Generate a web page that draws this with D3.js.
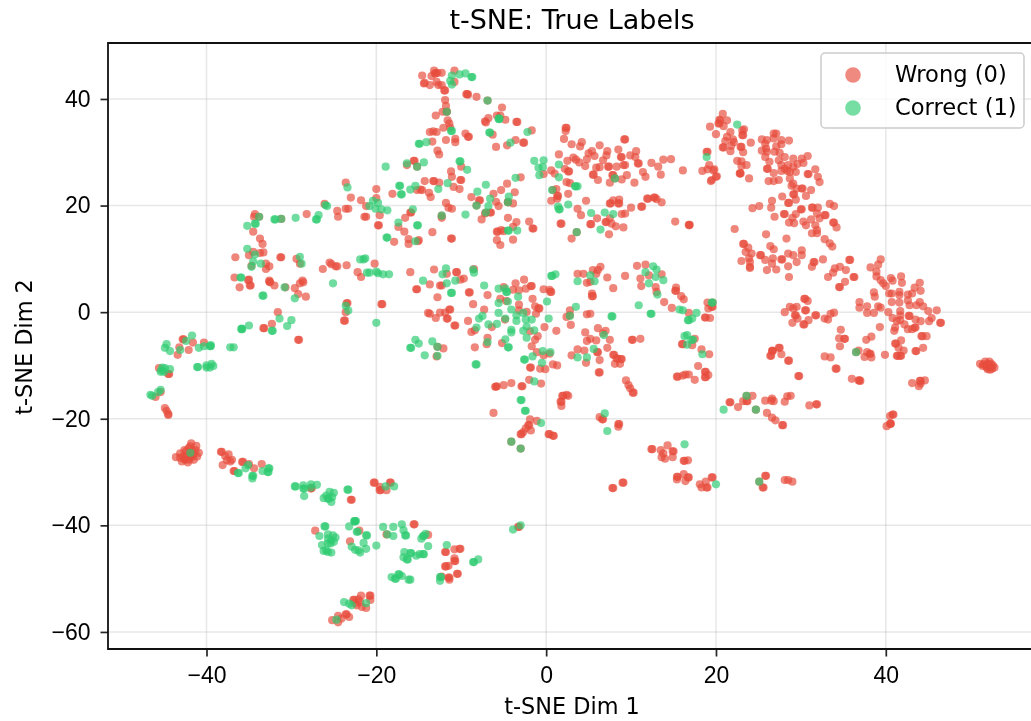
<!DOCTYPE html>
<html>
<head>
<meta charset="utf-8">
<script src="https://cdn.jsdelivr.net/npm/d3@7"></script>
<style>
  html, body { margin: 0; padding: 0; background: #fff; }
  svg { display: block; font-family: "DejaVu Sans", sans-serif; filter: blur(0.3px); }
  .tick text { font-size: 23px; fill: #000; }
  .tick line { stroke: #262626; stroke-width: 1.7; }
  .domain { display: none; }
</style>
</head>
<body>
<svg id="chart" width="1031" height="721"></svg>
<script>
const xTicks = [-40, -20, 0, 20, 40];
const yTicks = [-60, -40, -20, 0, 20, 40];
const legendLabels = ["Wrong (0)", "Correct (1)"];

// t-SNE units
const wrongPoints = [
  [-23.6,24.3],[-23,21.5],[-21.8,21],[-20,23.1],[-20,21.4],[-18.1,22.2],[-26.1,20.3],[-24.6,19],[-23.6,19.4],[-23.3,19.4],
  [-24.5,17.9],[-21.2,19.9],[-19.6,18.2],[-21.4,17.9],[-21.2,17.9],[-19.8,16.3],[-19.7,16.3],[-28.2,18.4],[-34.3,18.4],[-34.4,17.9],
  [-33.8,17.9],[-31.2,17.5],[-34.5,15.1],[-33.7,13.8],[-33.4,12.8],[-34.5,11.3],[-35,10.7],[-33.3,11.2],[-33.7,11.1],[-36.6,10.3],
  [-31.3,10.3],[-31.2,10.3],[-29.4,10],[-29,9.1],[-34.7,8.7],[-33,9.1],[-32.6,8.6],[-33,8.1],[-36.7,6.5],[-35,6.1],
  [-26.3,8.1],[-25.5,9.3],[-25.3,9],[-24.8,8.6],[-24.6,8.6],[-23.5,8.8],[-20.2,9.1],[-22.2,7.5],[-21.8,6.6],[-16,7.5],
  [-32.6,5.9],[-28.7,5.9],[-17.9,13.2],[-17.4,16],[-16.7,15.1],[-16.6,17.7],[-16,18.7],[-15.9,18.7],[-16.2,13.7],[-16.2,12.8],
  [-15.1,13.3],[-15.6,28.4],[-15.5,28.4],[-16.4,27.6],[-15.2,22.9],[-15.2,27.3],
  [-36.1,4.65],[-35.1,6],[-34.9,5],[-34.8,5],[-32.6,5.7],[-32.5,5.6],[-32,5],[-30.7,4.65],[-29.6,4.5],[-29,5.4],
  [-28.6,5.6],[-29.2,3.4],[-28.3,2.9],[-15.3,4.3],[-15.2,4.3],[-23.5,1.65],[-23.4,1.7],[-19.4,1.5],[-19.3,1.5],[-23.6,0],
  [-23.8,-1.6],[-23.7,-1.6],[-31.6,0],[-32.3,-2.2],[-33.3,-3],[-33.2,-3],[-29.2,-5.2],[-29.1,-5.2],[-42.8,-5.1],[-42.7,-5.1],
  [-41.6,-5.7],[-43.2,-6.6],[-42.1,-7.1],[-43.4,-8],[-40.3,-5.7],[-45.6,-10.5],[-44.5,-11.6],[-44.4,-11.6],[-46,-15.9],[-45.4,-15],
  [-44.9,-18],[-44.7,-18.5],[-44.5,-19.1],[-44.5,-19.3],
  [-41.8,-24.6],[-41.2,-25.1],[-42.6,-25.9],[-43.1,-26.5],[-43.6,-27.2],[-42.9,-28],[-42.2,-28.2],[-41.5,-27.7],[-41.1,-27.1],[-40.9,-26.4],
  [-41.3,-25.9],[-42.1,-25.5],[-42.3,-26.8],[-42.7,-27.1],[-43.1,-27.3],[-41.7,-27.1],[-42,-27.7],[-42.5,-27.7],[-41.5,-26.6],[-41.9,-26.4],
  [-41.9,-25.2],[-42.4,-26.1],[-41.7,-26],[-42,-27.2],[-42.6,-27.6],
  [-38.3,-26.2],[-38.2,-26.2],[-37.8,-27],[-37.4,-26.7],[-38.1,-28.7],[-37,-27.7],[-37.2,-28],[-37.6,-27.8],[-35.8,-28.1],[-35.7,-28.1],
  [-35,-28.5],[-36.8,-29.8],[-36.7,-29.8],[-34.4,-29.3],[-33.5,-28.5],[-20.3,-32],[-20.2,-32],[-18.4,-32],[-18.3,-32],[-19.6,-33.4],
  [-19.5,-33.4],[-18.8,-33.4],[-19.6,-32.8],[-23,-35.2],[-22.9,-35.2],[-27.6,-33],[-27.7,-33.1],
  [-27.2,-41],[-22,-41],[-23.1,-43],[-15.6,-39.8],[-15.5,-39.8],[-18.8,-41.7],[-13.9,-41.8],[-11.9,-45],[-11.8,-45],[-10.8,-44.5],
  [-10.2,-44.4],[-10.1,-44.4],[-10.8,-46.2],[-10.8,-46.7],[-10.7,-46.7],[-11.9,-47.7],[-11.8,-47.7],[-11.5,-47.6],[-10.5,-49.1],[-10.4,-49.1],
  [-12.3,-49.6],[-11.5,-49.8],[-11.4,-49.8],[-11.4,-50.2],[-3.3,-40.3],[-3.2,-40.3],[-20.8,-53.2],[-20.7,-53.2],[-21.8,-53.2],[-20.7,-54],
  [-22.7,-54],[-22.6,-54],[-22.1,-53.9],[-21.9,-54.4],[-22.3,-55],[-21.7,-55.3],[-21.2,-55.5],[-22.5,-54.6],[-23.6,-56.7],[-23.5,-56.7],
  [-23.2,-57.2],[-24.5,-57],[-25.2,-57.8],[-24.5,-58.2],[-24.1,-57.5],
  [-14.6,44.4],[-13.2,45.3],[-13.5,44.3],[-12.8,44.9],[-12.3,44.9],[-13.1,44.8],[-13,44.8],[-10.8,45.3],[-14.3,43],[-14.4,42.9],
  [-13.7,42.6],[-12.9,43.2],[-12.7,42.6],[-12.3,42.6],[-12,41.6],[-11.9,41.6],[-10.8,43.2],[-9.4,40.9],[-9.3,40.9],[-9.2,40.8],
  [-8.2,40.4],[-11.9,39.8],[-11.8,38.7],[-11.7,37.6],[-12.2,37.6],[-13,36.9],[-11.6,36],[-11.4,35.4],[-11.3,34.6],[-12.1,34.6],
  [-13.7,33.8],[-13.3,33.9],[-12.9,33.8],[-9.5,33.5],[-9.2,32.9],[-9.1,32.9],[-13.4,32],[-11.8,32.3],[-10.7,32.5],[-10.7,31.9],
  [-12.8,30.3],[-12.6,29.6],[-11.2,26.4],[-11.1,25.4],[-10.1,24.8],[-10,24.8],[-10,27.3],[-14.3,24.6],[-13.3,24.6],[-13.2,24.6],
  [-12.6,24.3],[-10.9,23.5],[-10.2,23.1],[-14.8,23],[-14.6,22.9],[-13.8,22.4],[-13.6,21.6],[-11.8,20.5],[-11.5,19.6],[-11.1,19.4],
  [-12.3,17.7],[-13.4,15],[-11.2,13.8],[-11.1,13.8],[-15,13.5],[-5.2,38.4],[-5.8,36.9],[-5.4,36.9],[-4.8,36.1],[-6.8,36.4],
  [-7.2,35.8],[-7.1,35.6],[-3.5,35.7],[-3.4,35.7],[-1.7,34.1],[-6.3,33.3],[-5.9,31],[-4.6,31.3],[-3.6,32.3],[-2.7,31.8],
  [-2.6,31.8],[-3,25.3],[-4.6,24.1],[-5.3,22.9],[-3.7,22.5],[-6.2,22.2],[-8.8,21.6],[-7.9,21],[-7.8,21],[-5.9,20.7],
  [-5.6,19.9],[-4.5,20.7],[-3.9,20.4],[-6.6,18.7],[-6.5,18.7],[-7.2,18.5],[-7.6,17.4],[-4.5,17.7],[-3.5,16.9],[-3.9,16],
  [-2,17],[-1.6,15.7],[-1.5,15.7],[-5.8,15.1],[-5.7,15.1],[-5.3,15.4],[-5,15.2],[-5.8,13.5],[-5.4,12.6],[-3.9,13.6],
  [-0.3,25.9],[0.6,26.6],[1,26],[0.8,22.9],[1.2,23.1],[1.3,21.8],[1.4,21.8],[1.3,21.3],[0.6,20.9],[2.6,22.2],
  [2.3,34.6],[2.4,34.6],[2.3,34],[2.1,32.5],[3,31.5],[4.2,31.9],[4,31.1],[1.5,29.6],[2.5,28.4],[3.2,29],
  [3.5,28.6],[3.9,28.1],[4.6,27.4],[4.8,28.7],[5,29.8],[5.4,30.2],[5.7,29.3],[6.3,31.3],[7.2,30.2],[7.1,29.4],
  [6.7,28.5],[6.3,27.2],[5.9,27.1],[7.3,27.3],[7.4,27.3],[8.3,27.3],[8.8,29.1],[8.9,29.1],[8.5,30.5],[9.2,32.4],
  [9.3,32.4],[9.1,27.6],[9.3,27.6],[9.9,29.4],[10.6,30.2],[10.5,29.1],[10.8,27.9],[10.9,27.9],[11.4,26.3],[11.7,25.4],
  [12.4,28],[13.2,27.3],[13.8,28.6],[14.7,28.7],[13.5,25.8],[16.1,26.6],[2.6,26.4],[2.7,26.4],[2.2,26.9],[2.4,24.4],
  [2.8,24.2],[5.5,25.8],[5.6,25.8],[6.1,24.8],[7.5,24.3],[7.8,25.7],[7.9,25.7],[8.9,24.9],[9.5,25.7],[10.4,24.3],
  [11.9,21.3],[12,21.3],[12.7,21.5],[12.8,21.5],[13,21.2],[13.6,20.6],[10,19.6],[11.2,19.8],[11.3,19.8],[7.9,21],
  [7.5,20.4],[7.6,20.4],[8.6,21.1],[8.5,20.4],[8.6,20.4],[4.7,20.9],[3.7,19.4],[4.1,18.2],[1.7,16.6],[1.8,16.6],
  [5.2,16.5],[5.3,16.5],[6,17.6],[7,16.9],[7.1,16.9],[7.5,17.6],[7.7,16.6],[8.2,16.1],[8.9,18.4],[9.3,18.5],
  [9.1,15.9],[7.4,14.6],[3,13.8],[15.2,17],[16.8,16.4],[16.9,16.4],[16.85,16.3],[18.9,30.1],[19,30.1],[19.3,34.8],
  [20,33.4],[20.3,35.4],[20.4,35.4],[19.2,27.6],[18.4,26.5],[19,26.8],[19.7,26.6],[19.4,24.6],[20,25.4],[3.6,15],
  [8.1,25.1],[-12.3,18.1],[-8.2,20],[-7.1,18.7],[-4.5,20.6],[-6.9,39.7],[-11.7,37.6],
  [20.8,37.2],[20.5,36],[21.3,36],[20.9,34.9],[20.4,36.1],[21.7,33.8],[21.3,32.9],[21.1,32.1],[22,32.4],[22.1,31.9],
  [23.1,34.1],[23.3,34.3],[23.1,33.2],[23.2,33.2],[24.1,31.8],[20.8,30.9],[20.9,30.9],[21.7,30.2],[21.8,31.2],[22.9,31],
  [23,31],[23.2,30],[22.5,28.4],[23,28.3],[23.6,27.6],[23,27.4],[22.8,26],[22.9,26],[22.85,26.1],[23.9,25.1],
  [19.8,26.8],[20.1,25.5],[19.5,24.8],[25.4,32.4],[26,32.3],[25.8,31.6],[26.8,33.5],[27.1,33.5],[26.8,32.6],[27.7,32.3],
  [28.6,32.2],[27.7,31.5],[27.1,31.1],[25.4,30.3],[25.9,30.7],[26,30.1],[26.9,30.1],[27.5,29.9],[25.8,29.1],[26.3,28.2],
  [26,26.9],[26.1,26.9],[26.8,26.1],[27.4,28.5],[28.1,29.1],[29.1,28.8],[30.1,28.8],[30.8,29.3],[30.3,28],[29.6,27.8],
  [29.1,27.3],[27.7,27.6],[28.1,26.9],[28.5,27.6],[27.7,26.5],[28.7,26.3],[29.4,26.3],[28.4,26.5],[31.7,26.8],[30.8,25.9],
  [30.9,25.9],[32,25.4],[32.2,24.4],[26.2,24.6],[26.8,24.6],[27.4,24.8],[28.7,25.1],[28.9,23.7],[29.5,23.2],[30.1,23.2],
  [30.2,23.2],[29.1,24.1],[31.2,22.9],[29.1,22.1],[29.2,22.1],[29.4,21.1],[27.8,21.7],[30.6,21.8],[26.6,20.9],[26.5,19.6],
  [28.5,20.5],[28.6,20.5],[24.3,19.5],[25.1,19.9],[28,18.4],[28.1,18.4],[26.9,17.9],[30,19.3],[30.1,19.3],[29.4,18.4],
  [29,17.7],[28.6,16.8],[29.2,16.7],[31.3,19.6],[31.4,19.6],[32,19.6],[31.9,18.5],[32.8,18.2],[32.9,18.2],[32.2,17.6],
  [33.4,20.3],[33.9,19.9],[31.2,17.4],[30.3,17],[30.6,16.3],[31.7,16.3],[31.9,15.4],[33.8,16.8],[33.9,16.8],[34.2,15.9],
  [31.3,14.8],[31.9,14.8],[22.2,15.6],[25.9,14.6],[28.3,13.8],[32.8,13.7],[33.4,12.9],[33.7,12.3],[23.2,12.8],[23.3,12.8],
  [23.8,12.1],[23.5,11.3],[24.2,11],[23.9,10.1],[25.2,10.7],[25.3,10.7],[26.4,12.4],[26.8,11.8],[23,9.6],[24,9.4],
  [24,8.3],[28.5,11],[29.1,10.7],[30.1,11.6],[30.1,10.7],[27.7,9.9],[27.8,9.9],[26.7,10.1],[25.8,9.8],[35.7,9.8],
  [35.8,9.8],[32.6,9.9],[31.5,9.4],[31.6,9.4],[31.3,8.5],[34,8.2],[34.6,8.5],[33.8,7.4],[35.3,7.9],[33.2,6.6],
  [36.2,6.6],[36.3,6.6],[39.4,9.9],[39.1,8.9],[38.2,8.4],[38.9,7.6],[24,8.5],[26,7.9],[27.1,8],[28.5,8.6],
  [28.6,6.6],[26.6,9.1],[29.5,9.4],[34.5,4.7],[34.6,4.7],[35.2,5.7],
  [38.9,6.7],[39.4,6],[39.7,5.4],[40,4.9],[40.6,6.4],[40.8,5.9],[41.8,6.7],[41.9,5.5],[44,5.5],[43.4,4.6],
  [44.1,4],[38.6,3.7],[38.7,2.9],[40.4,3.5],[40.7,3.5],[41.6,3.8],[41.6,3.2],[42.6,3.3],[43.1,3.5],[40.7,1.9],
  [41.6,1.8],[42.6,2.2],[42.8,1.3],[44,1.9],[44.4,1.1],[43.6,1.3],[36.9,1.9],[36.9,0.85],[37.8,1.1],[39.1,1.1],
  [39.4,0.85],[37.8,-0.15],[38.6,-0.15],[40.3,0],[41.7,0.2],[41.7,-0.6],[42.7,-0.7],[42.8,-0.7],[40.8,-1.1],[41.3,-1.7],
  [41.7,-1.5],[42.2,-2.3],[43.5,-1.4],[44.1,-1.7],[45,0.2],[46,0.35],[45.4,-1.1],[45.1,-1.7],[46.4,-2],[46.5,-2],
  [41.1,-2.9],[41,-3.5],[42.6,-3.2],[43.4,-2.9],[43.5,-2.9],[43.1,-3.2],[39.3,-2.8],[44.2,-4.5],[44.3,-4.5],[44.8,-4.5],
  [41.1,-5.9],[41.2,-5.9],[41.8,-5.3],[41.5,-6.7],[42.1,-7.2],[44.4,-6.7],[43.5,-7.3],[43.6,-7.3],[41.3,-8.2],[41.4,-8.2],
  [41.7,-8.2],[41.8,-8.2],[39.9,-8],[37.7,-5.2],[38.3,-4.6],[34.7,-3.3],[34.5,-4.9],[35.1,-5],[35.2,-5],[34.6,-6.4],
  [36.8,-7.2],[38.1,-7.8],[38.2,-7.8],[37.5,-8.4],[38.3,-8.5],[37.8,-7.5],[32.8,-8.3],[33.5,-8.5],[34.1,-10.6],[34.2,-10.6],
  [36,-12.5],[36.8,-12.8],[36.9,-12.8],[37,-12.9],[43.1,-13.3],[44,-12.9],[44.1,-12.9],[44.6,-12.8],[43.9,-13.9],[44.1,-13.4],
  [30.4,2.5],[30.5,2.5],[30.8,2.1],[28.7,1],[29.5,1],[28.1,0],[29.1,0.7],[29.3,-0.6],[29.4,-0.6],[29.6,-1.2],
  [30.5,0.35],[30.6,0.35],[31.7,-0.6],[31.8,-0.6],[30.9,-1.5],[30.3,-2.3],[30.4,-2.3],[29,-2],[32.8,-1.2],[33.2,-1.4],
  [33.5,-0.3],[33.9,-0.1],[26.6,-7.3],[26.7,-7.3],[26.65,-7.2],[26.4,-8.2],[26.5,-8.2],[27.4,-6.7],[27.5,-6.7],[27.7,-7.9],
  [28.5,-9.1],[28.6,-9.1],[29.7,-12],[29.8,-12],[31,-17.5],[31.8,-17.3],[31.9,-17.3],[23.6,-15.7],[24.3,-15.7],[23.2,-16.7],
  [23.6,-16.7],[23.7,-16.7],[21.6,-16.9],[21.7,-16.9],[22.6,-17.8],[24.7,-18.3],[25.8,-16.6],[26.6,-16.2],[26.8,-16.7],[26.5,-16.6],
  [28.1,-16.8],[28.4,-15.8],[28.8,-15.7],[26,-18.9],[26.6,-19.8],[27,-20.3],[27.8,-21.2],[27.9,-21.2],[40.8,-19.2],[40.9,-19.2],
  [40.5,-20.9],[40.6,-20.9],[40.55,-21],[40.1,-21.4],[40.5,-19.5],[51.1,-9.7],[51.7,-9.3],[52.2,-9.3],[52.6,-10],[52.8,-10.4],
  [52,-10.7],[52.2,-10.3],[51.8,-10],[51.5,-9.8],[52,-9.7],[52.4,-9.7],[52.5,-10.6],[51.9,-10.4],[52.3,-10.8],[51.4,-10.1],
  [25.8,-30.7],[25.9,-30.7],[19.6,-31],[28.1,-31.5],[28.5,-31.5],[29,-31.8],[25.5,-32.9],
  [25.6,-32.9],[25.1,-31.8],[36.5,-7.5],[19.6,1.8],
  [-13.2,8],[-11.7,7.2],[-10.6,7.5],[-10.5,7.5],[-9.7,6.3],[-10.1,6.1],[-8.5,8.1],[-13.7,5.2],[-12.5,5],[-12.3,5],
  [-12.8,2.8],[-9.1,3.7],[-9,3.7],[-8.6,1.5],[-6.9,3.2],[-7.3,0.5],[-13.9,-0.15],[-13.7,-0.3],[-13,-1.1],[-12.5,-0.1],
  [-11.9,-0.1],[-11.4,0.5],[-11.3,0.5],[-11.7,-1.2],[-11.6,-1.2],[-10.8,-2.5],[-10.7,-2.5],[-9.2,-1.65],[-8.8,-3.7],[-8.4,-3.4],
  [-6.9,-4.8],[-7,-6],[-8.4,-6.6],[-12.1,-6.8],[-12.8,-6.5],[-12.9,-8.3],[-5.2,-5.8],[-6.4,-2.8],[-5,4.7],[-3.9,4.2],
  [-3.6,5.4],[-3.2,4.1],[-2.6,6.1],[-2.4,4.4],[-1.8,4.9],[-1.7,4.9],[-0.3,4.3],[0.4,4.2],[0.5,3.8],[0.6,3.8],
  [-1.6,2.5],[-5.4,2.5],[-4.7,2.1],[-3.2,1.4],[-3.2,0.35],[-1.3,1.1],[-0.9,0.7],[-0.8,0.7],[-1.2,-0.3],[-2.3,0.04],
  [-4.85,-1.4],[-0.2,-2.8],[1.2,-3.5],[-1.9,-3.6],[-1,-4.5],[-1.3,-5.2],[-1.7,-6.4],[-1.1,-7.5],[-0.3,-8.1],[0.4,-7.8],
  [0.8,-9.8],[1.3,-10],[-1.9,-10.4],[-1.8,-10.4],[-0.7,-10.6],[-0.1,-10.7],[-2,-12.7],[-0.6,-13.4],[-4.1,-13.3],[-5,-13.7],
  [-6,-14],[-5.9,-14],[-5.8,-13.9],[-2.9,-13.9],[-2.8,-13.9],[-6.2,-18.9],[-1.9,-20.1],[-1.1,-20.4],[-2.1,-21.2],[-2,-21.2],
  [-2.4,-21.8],[-1.8,-22.2],[-2.7,-22.5],[-3,-22.9],[-2.9,-22.9],[-4.1,-24.3],[-3,-25.6],[0.3,-22.9],[0.4,-22.9],[0.8,-23.2],
  [0.9,-23.2],[1.9,-15.7],[2,-15.7],[2.6,-15.7],[2.4,-15.5],[1.7,-16.8],[1.8,-16.8],[1.8,-17.6],[6.3,-19.7],[6.6,-20.1],
  [6.7,-20.1],[8.5,-21],[8.6,-21],[8.5,-21.5],[3.7,7.2],[4.4,7.2],[4.8,5.5],[5.2,5.7],[5.5,7.9],[5.9,7.2],
  [6.4,8.5],[6.1,7.9],[7.2,6.5],[7.9,4.5],[9.3,6.8],[5.4,3.5],[5.4,3],[5.5,3],[10.7,8.7],[11.7,8.9],
  [11.1,6.3],[12.1,6.9],[11.2,4.9],[13.6,7.1],[12.9,4.7],[13,3.8],[13.9,1.9],[14.8,0.8],[15.3,4.6],[15.2,4],
  [15.3,4],[15.9,3],[16.2,2.4],[16.8,-0.15],[19,1.8],[19.5,1],[19.6,1],[19.1,0.7],[18.7,-1],[18.8,-1],
  [19.3,-1.1],[2.8,0.35],[2.4,-0.9],[2.8,-0.6],[4.8,-0.4],[5.2,-0.3],[2.9,-2.4],[4.6,-3.8],[6.1,-3],[7,-3.5],
  [6.7,-4],[4.8,-5.4],[5.2,-5],[5.9,-5.3],[7.5,-5.2],[7.2,-6.7],[10.1,-5.2],[10.2,-5.2],[11.1,-5],[3.7,-7],
  [4.5,-7.2],[3,-8.1],[6,-7.5],[6.1,-7.5],[6.3,-9],[4.7,-9.5],[7.9,-8],[8,-8],[8.3,-8.7],[8.4,-8.7],
  [8.8,-8.8],[8.9,-8.8],[8.1,-9.7],[8.7,-9.7],[6.2,-11.3],[6.3,-11.3],[9.4,-12.8],[9.7,-13.7],[9.9,-14.3],[10.2,-15.1],
  [10.3,-15.1],[15.4,-12.1],[15.5,-12.1],[16.1,-11.9],[16.4,-11.7],[16.8,-11.7],[17.5,-12.7],[17.9,-10.1],[18.7,-11.2],[18.8,-11.2],
  [18.7,-12.2],[18.8,-12.2],[19.1,-11.8],[18.3,-7],[19.2,-7.9],[16,-6],[16.1,-6],[17.2,-6.2],[17.5,-5],[12.4,-25.7],
  [12.5,-25.7],[13.5,-25.9],[14.3,-25],[13.8,-26.5],[14.9,-26.1],[15,-26.1],[14,-27.5],[14.9,-27.2],[13.6,-27.2],[16.2,-27.9],
  [16.3,-27.9],[16.7,-27.8],[15.4,-30.9],[15.5,-30.9],[15.4,-31.4],[16.2,-30.4],[16.7,-31],[16.8,-31],[16.4,-31.7],[7.8,-33],
  [7.9,-33],[9,-32],[9.1,-32],[18.1,-32.3],[18.8,-31.8],[19.5,-31],[18.3,-32.9],[18.9,-32.9],[19,-32.9]
];

const correctPoints = [
  [-15,31.6],[-18.9,27.3],[-16.4,27.9],[-15.2,27.3],[-23.4,23.4],[-17.3,23.7],[-17.2,23.7],[-17.1,22.1],[-17,22.1],[-16,23],
  [-15.4,23.7],[-26,20.1],[-25.8,19.9],[-20.4,20.9],[-19.8,20.5],[-20.1,19.4],[-19.4,19.3],[-18.7,19.1],[-20.8,19.9],[-15.7,19.3],
  [-33.8,17.9],[-35.2,16.2],[-34.3,16.6],[-34.2,16.6],[-32,17.4],[-31.9,17.4],[-31.2,17.5],[-29.5,17.7],[-26.8,18.2],[-27.1,17.4],
  [-27,17.4],[-17.4,16.8],[-15.2,16.3],[-15.1,16.3],[-18.8,14],[-18.7,14],[-15.4,13.3],[-35.2,11.9],[-34.3,10.8],[-34.5,9.5],
  [-34.7,8.5],[-33.6,9.1],[-29,10.4],[-28.8,9.1],[-21.9,9.9],[-21.5,9.9],[-21.3,10.1],[-21.1,7.4],[-20.8,7.4],[-20,7.6],
  [-19.8,7.3],[-19.2,7.1],[-18.5,7.1],[-36,6.5],[-35.9,6.5],
  [-35,-2.5],[-35.9,-3.2],[-35.8,-3.2],[-35.85,-3.1],[-32.3,-3.5],[-32.2,-3.5],[-31.4,-1.2],[-30,-1.5],[-30.5,-2.6],[-25.1,5.4],
  [-33.4,3.1],[-33.3,3.1],[-30.8,4.65],[-29.6,2.6],[-23.6,1.2],[-23.3,0.3],[-20,-2],[-15.4,-5.2],[-16,-6.7],[-15.9,-6.7],
  [-15,-5.9],[-41.7,-4.4],[-42.4,-5.4],[-44.7,-6],[-44.9,-6.7],[-44.3,-7.3],[-43.1,-7.1],[-40.9,-6.7],[-40.3,-6.4],[-39.6,-6.4],
  [-39.5,-6.4],[-39.5,-6.2],[-37.2,-6.6],[-36.8,-6.6],[-41.1,-10.3],[-41,-10.3],[-40,-10.4],[-40,-10],[-39.4,-9.7],[-39.2,-10.1],
  [-39.6,-10.4],[-45.2,-10.4],[-44.9,-10.5],[-44.3,-10.7],[-45.4,-11.2],[-45,-11.2],[-45.3,-10.9],[-45.4,-14.6],[-45.7,-15],[-46.6,-15.5],
  [-46.4,-15.7],[-36.3,-30.2],[-36.2,-30.2],[-35.4,-29.3],[-35.1,-28.7],[-33.4,-29.8],[-32.7,-29.3],[-32.6,-29.3],[-32.8,-30],[-32.7,-30],
  [-34.6,-30.7],[-34.5,-30.7],[-34.6,-31.2],[-41.9,-26.4],
  [-29.6,-32.7],[-29.5,-32.7],[-28.6,-32.5],[-28.6,-33.1],[-28.5,-33.1],[-28.5,-34.5],[-27.7,-32.3],[-27.7,-32.9],[-27,-32.4],[-26.2,-34.9],
  [-25.9,-34.4],[-25.5,-33.7],[-25,-33.9],[-25.2,-34.7],[-25.3,-35.6],[-25.7,-35],[-25.6,-35],[-23.4,-33.3],[-23.3,-33.3],[-18.9,-32.7],
  [-17.9,-32.7],[-26.1,-40.2],[-26,-40.2],[-22.6,-39.2],[-22.5,-39.2],[-22.55,-39.3],[-22.4,-39.2],[-23.2,-40.2],[-22.3,-41.2],[-22.2,-41.2],
  [-21.2,-41.9],[-21.1,-41.9],[-26.7,-42],[-25.7,-41.7],[-25.1,-41.9],[-24.8,-42.3],[-25.7,-42.5],[-25.3,-42.8],[-25,-43.1],[-25.7,-43.4],
  [-25.4,-43.4],[-26.4,-43.7],[-26.2,-44.8],[-25.7,-45],[-25.3,-45.1],[-25.9,-44.7],[-21.5,-43.3],[-22.9,-44],[-22.5,-44.6],[-22.1,-44.7],
  [-21.9,-45.1],[-21.2,-44.4],[-20,-43.8],[-19.2,-40.3],[-18,-40.3],[-17,-39.8],[-18,-42],[-18.7,-41.7],[-16.8,-40.9],[-16.6,-41.9],
  [-16.5,-41.9],[-14.7,-42.5],[-14.5,-42],[-14.4,-42],[-14.2,-41.6],[-13.9,-43.9],[-11.7,-43.7],[-16.7,-45],[-16,-45.2],[-15.9,-45.2],
  [-16.8,-46],[-16.4,-46.4],[-16.3,-46.4],[-15.3,-45.7],[-14.9,-45.4],[-14.5,-45.4],[-14.4,-45.4],[-18.2,-49.7],[-17.8,-50],[-17.7,-50],
  [-17.4,-49.2],[-17.3,-49.2],[-17,-49.5],[-16.2,-50.2],[-16,-50.2],[-12.5,-49.7],[-12.4,-49.7],[-12.5,-50.4],[-8.6,-46.9],[-8.5,-46.9],
  [-8,-46.4],[-3.9,-40.8],[-3,-40],[-23.8,-54.4],[-23.2,-54.7],[-22.9,-55],[-21.2,-54.6],[-24.7,-57.7],
  [-11.1,44.4],[-11.3,43.4],[-11.1,42.7],[-10.2,44.6],[-9.5,44.8],[-8.8,44.1],[-8.7,44.1],[-6.9,39.7],[-11.7,37.6],[-5.6,36.3],
  [-5.5,36.3],[-5.55,36.2],[-11.2,34],[-11.1,34],[-6.7,33.7],[-6.6,33.7],[-2.2,33.8],[-14.9,31.6],[-14.1,31.9],[-4.2,31.8],
  [-10.2,28.3],[-10.1,28.3],[-9.3,26.7],[-14.4,28.1],[-3.6,25.2],[-7.1,23.9],[-11.6,24.2],[-12.7,23.1],[-8.1,22.6],[-6.6,21.3],
  [-4.4,21.7],[-4.5,20.6],[-8.2,20],[-6.8,19.9],[-7.1,18.7],[-9.5,18.3],[-12.3,18.1],[-4.5,15.3],[-4.4,15.3],[-3.4,15.3],
  [-1.4,28.4],[-0.3,28.5],[-0.9,27.1],[-0.4,27.2],[-0.8,25.7],[1.5,27.7],[1.5,25.3],[0.7,22.9],[3.4,23.6],[3.5,23.6],
  [3.7,23.6],[1.4,19.8],[1.5,19.3],[1.6,19.3],[2.6,20.2],[8.1,25.1],[5.3,18.6],[6.9,18.7],[7.9,18.4],[6.4,15.5],
  [3.6,15],[18.9,29.1],[22.5,35.2],
  [-14.5,5.9],[-11.8,8.2],[-12.2,7.1],[-11.7,5.4],[-10.7,5.9],[-8.6,8],[-8.5,7.4],[-11.2,3.6],[-11.1,3.6],[-7.3,5],
  [-5.6,4.4],[-4.8,4.4],[-4.7,3.8],[-4.6,3.8],[-5.6,1.7],[-4.5,2],[-3.3,2.9],[0.1,2],[-4.1,0.5],[-2.7,-0.15],
  [-5.6,-0.15],[-7.5,-0.7],[-7.9,-1.2],[-4.8,-1.2],[-3.5,-0.6],[-3.5,-1.65],[-1.7,-1.4],[-2.4,-1.4],[0.3,-1.2],[-8.2,-2.9],
  [-6.8,-2.3],[-5.8,-2.2],[-4.1,-3.3],[-4.1,-3.8],[-2.7,-3.5],[-2.3,-2.7],[-1.4,-3.4],[-2.3,-4.8],[-4.8,-5.1],[-4.5,-6.6],
  [-4.4,-6.6],[-6.9,-5.6],[-13.4,-5.5],[-12.8,-6.5],[-14.3,-8.1],[-12.8,-8.2],[-8.3,-9.8],[-8.2,-9.8],[-0.4,-7.3],[0.5,-7.5],
  [-1.6,-8.3],[-2.6,-8.9],[-2.5,-8.9],[-0.5,-9.5],[-1.4,-13],[-3,-16.5],[-2.9,-16.5],[-2.5,-18.5],[-2.4,-18.5],[-0.6,-20.8],
  [-4.1,-24.3],[-3,-25.6],[0.6,6.8],[0.7,6.8],[1.1,7.1],[3.7,5.8],[5.2,6.9],[5.7,5.8],[3.5,1],[2.8,-0.7],
  [7.7,-0.8],[7.8,-0.8],[6.8,-4.3],[5.6,-6.9],[3.7,-8.5],[4.8,-8.5],[11.7,7.5],[12.6,8.6],[13,8],[12.9,6.6],
  [12.1,5.4],[13.8,6],[13.1,3.3],[10.9,1.3],[12.3,-0.3],[12.4,-0.3],[15.7,0.5],[16.1,0.35],[17.7,-0.15],[17.2,-1.2],
  [16.7,-1.5],[16.8,-1.5],[19.5,1.8],[16.3,-4.5],[16.6,-4.3],[17.3,-5.2],[16.6,-6.1],[17.1,-5.2],[18.4,-7.9],[6.9,-19],
  [7.2,-22.3],[16.3,-24.8],[20,-32.3],[20.9,-18.3],[23.6,-15.7],[24.7,-18.3],[36.5,-7.5],[19.6,1.8],[25.1,-31.8]
];

const width = 1031;
const height = 721;
const margin = { top: 43, right: 0, bottom: 72, left: 108 };
const RED = "#e74c3c";
const GREEN = "#2ecc71";

const svg = d3.select("#chart");

const xScale = d3.scaleLinear().domain([-51.6, 57.1]).range([margin.left, width - margin.right]);
const yScale = d3.scaleLinear().domain([-63.2, 50.5]).range([height - margin.bottom, margin.top]);

// Grid.
const grid = svg.append("g");
grid.selectAll("line.gx").data(xTicks).join("line")
  .attr("x1", d => xScale(d)).attr("x2", d => xScale(d))
  .attr("y1", margin.top).attr("y2", height - margin.bottom);
grid.selectAll("line.gy").data(yTicks).join("line")
  .attr("y1", d => yScale(d)).attr("y2", d => yScale(d))
  .attr("x1", margin.left).attr("x2", width - margin.right);
grid.selectAll("line")
  .attr("stroke", "#b0b0b0").attr("stroke-opacity", 0.3).attr("stroke-width", 1.5);

// Points, wrong first so correct sits on top.
const drawPoints = (points, color) => svg.append("g")
  .selectAll("circle").data(points).join("circle")
  .attr("cx", d => xScale(d[0]))
  .attr("cy", d => yScale(d[1]))
  .attr("r", 4.1)
  .attr("fill", color)
  .attr("opacity", 0.68);
drawPoints(wrongPoints, RED);
drawPoints(correctPoints, GREEN);

// Axes.
const xAxis = d3.axisBottom(xScale).tickValues(xTicks).tickSize(7.5).tickPadding(10);
const yAxis = d3.axisLeft(yScale).tickValues(yTicks).tickSize(7.5).tickPadding(10);
svg.append("g").attr("transform", `translate(0,${height - margin.bottom})`).call(xAxis);
svg.append("g").attr("transform", `translate(${margin.left},0)`).call(yAxis);

// Frame, the right edge falls outside the picture.
svg.append("path")
  .attr("d", `M${width + 2},${margin.top}H${margin.left}V${height - margin.bottom}H${width + 2}`)
  .attr("fill", "none").attr("stroke", "#111").attr("stroke-width", 1.8);

svg.append("text").attr("x", 572).attr("y", 29).attr("text-anchor", "middle")
  .attr("font-size", 27).attr("fill", "#000").text("t-SNE: True Labels");
svg.append("text").attr("x", 572).attr("y", 714).attr("text-anchor", "middle")
  .attr("font-size", 22.4).attr("fill", "#000").text("t-SNE Dim 1");
svg.append("text").attr("transform", "translate(32,347) rotate(-90)").attr("text-anchor", "middle")
  .attr("font-size", 22.4).attr("fill", "#000").text("t-SNE Dim 2");

// Legend.
const legend = svg.append("g");
legend.append("rect").attr("x", 821).attr("y", 53).attr("width", 203).attr("height", 75).attr("rx", 4)
  .attr("fill", "#fff").attr("fill-opacity", 0.8).attr("stroke", "#ccc").attr("stroke-width", 1.5);
const rows = legend.selectAll("g.row").data(legendLabels).join("g")
  .attr("transform", (d, i) => `translate(0,${75 + i * 33})`);
rows.append("circle").attr("cx", 853).attr("r", 7.8)
  .attr("fill", (d, i) => (i ? GREEN : RED)).attr("opacity", 0.65);
rows.append("text").attr("x", 895).attr("y", 6.7)
  .attr("font-size", 22.6).attr("fill", "#000").text(d => d);
</script>
</body>
</html>
